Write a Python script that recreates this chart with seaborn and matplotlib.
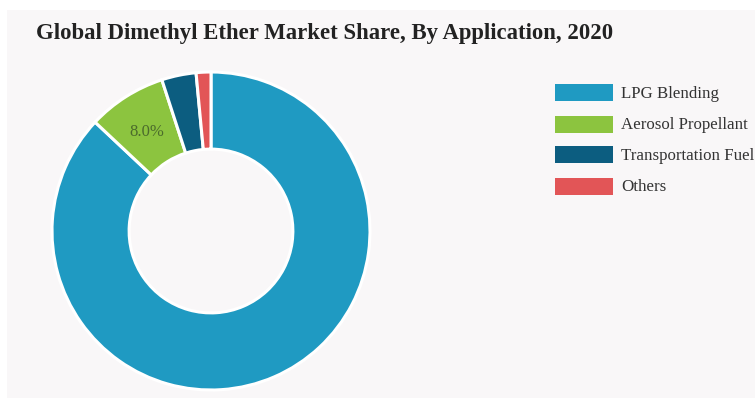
import numpy as np
import matplotlib
matplotlib.use("Agg")
import matplotlib.pyplot as plt
from matplotlib.patches import Rectangle
import seaborn as sns

# Market share by application (%)
categories = ["LPG Blending", "Aerosol Propellant", "Transportation Fuel", "Others"]
shares = [87.0, 8.0, 3.5, 1.5]
colors = ["#1f9ac2", "#8cc43f", "#0c5d80", "#e25557"]
labelled = {"Aerosol Propellant": "8.0%"}

sns.set_theme(style="white")
plt.rcParams["font.family"] = ["Liberation Serif", "DejaVu Serif"]

W, H = 755, 400
fig = plt.figure(figsize=(W / 100, H / 100), dpi=100, facecolor="white")

# light panel behind the chart
fig.patches.append(Rectangle((7 / W, 2 / H), (W - 7) / W, (H - 12) / H,
                             transform=fig.transFigure, facecolor="#f9f7f8",
                             edgecolor="none", zorder=-5))

cx, cy, r = 211, 231, 159
ax = fig.add_axes([(cx - r) / W, (H - cy - r) / H, 2 * r / W, 2 * r / H])
ax.set_facecolor("none")
ax.set_zorder(1)
wedges, _ = ax.pie(shares, colors=sns.color_palette(colors), startangle=90,
                   counterclock=False, radius=1.0,
                   wedgeprops=dict(width=0.485, edgecolor="white", linewidth=2.2))
ax.set_xlim(-1, 1)
ax.set_ylim(-1, 1)
ax.set_aspect("equal")
ax.axis("off")

for w, cat in zip(wedges, categories):
    if cat in labelled:
        mid = np.deg2rad((w.theta1 + w.theta2) / 2)
        rr = 1 - 0.485 / 2
        ax.text(rr * np.cos(mid), rr * np.sin(mid) - 0.02, labelled[cat],
                ha="center", va="center", fontsize=12, color="#4b6b2c")

fig.text(36 / W, 1 - 33 / H, "Global Dimethyl Ether Market Share, By Application, 2020",
         fontsize=16.4, fontweight="bold", color="#222222", va="center", ha="left")

# legend
ys = [93, 124, 155, 186]
for cat, col, y in zip(categories, colors, ys):
    fig.patches.append(Rectangle((555 / W, 1 - (y + 8.5) / H), 58 / W, 17 / H,
                                 transform=fig.transFigure, facecolor=col,
                                 edgecolor="none", zorder=2))
    fig.text(621 / W, 1 - (y + 1) / H, cat, fontsize=12.2, color="#333333",
             va="center", ha="left")

fig.savefig("out.png", dpi=100, facecolor="white")
